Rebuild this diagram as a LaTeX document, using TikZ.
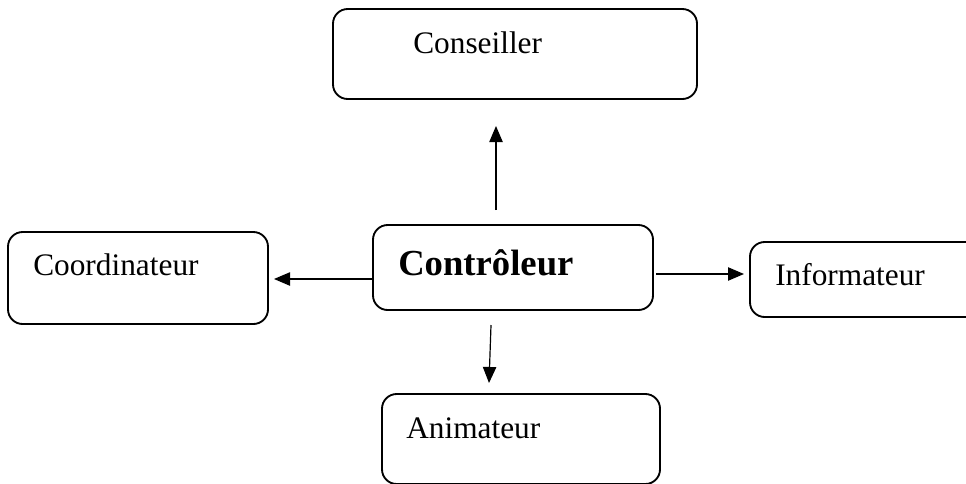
\documentclass[tikz,border=0pt]{standalone}
\usepackage{fontspec}
\setmainfont{Liberation Serif}
\usetikzlibrary{arrows.meta}
\begin{document}
\begin{tikzpicture}[x=0.75pt,y=-0.75pt,
  box/.style={draw,line width=1.4pt,rounded corners=11pt,inner sep=0pt,outer sep=0pt},
  lbl/.style={anchor=base west,inner sep=0pt,font=\fontsize{23.5}{28}\selectfont},
  arr/.style={line width=0.9pt,-{Triangle[length=12pt,width=10pt]}}]
\useasboundingbox (0,0) rectangle (966,483);
\clip (0,0) rectangle (966,483);
% boxes
\node[box,minimum width=273pt,minimum height=67.5pt] (cons) at (515,54) {};
\node[box,minimum width=210pt,minimum height=63.75pt] (ctrl) at (513,267.5) {};
\node[box,minimum width=195pt,minimum height=69pt] (coord) at (138,278) {};
\node[box,minimum width=187.5pt,minimum height=56.25pt] (info) at (875,279.5) {};
\node[box,minimum width=208.5pt,minimum height=67.5pt] (anim) at (521,439) {};
% labels
\node[lbl] (tcons) at (413,53) {Conseiller};
\node[lbl,font=\fontsize{27.5}{32}\selectfont\bfseries] (tctrl) at (398,275) {Contrôleur};
\node[lbl] (tcoord) at (33,275) {Coordinateur};
\node[lbl] (tinfo) at (775,285) {Informateur};
\node[lbl] (tanim) at (406,438) {Animateur};
% arrow ends
\coordinate (upS) at (496,210);
\coordinate (upE) at (496,126);
\coordinate (leS) at (373,279);
\coordinate (leE) at (274,279);
\coordinate (riS) at (656,274);
\coordinate (riE) at (744,274);
\coordinate (dnS) at (491,325);
\coordinate (dnE) at (489,383);
\draw[arr] (upS) -- (upE);
\draw[arr] (leS) -- (leE);
\draw[arr] (riS) -- (riE);
\draw[arr] (dnS) -- (dnE);
\end{tikzpicture}
\end{document}
